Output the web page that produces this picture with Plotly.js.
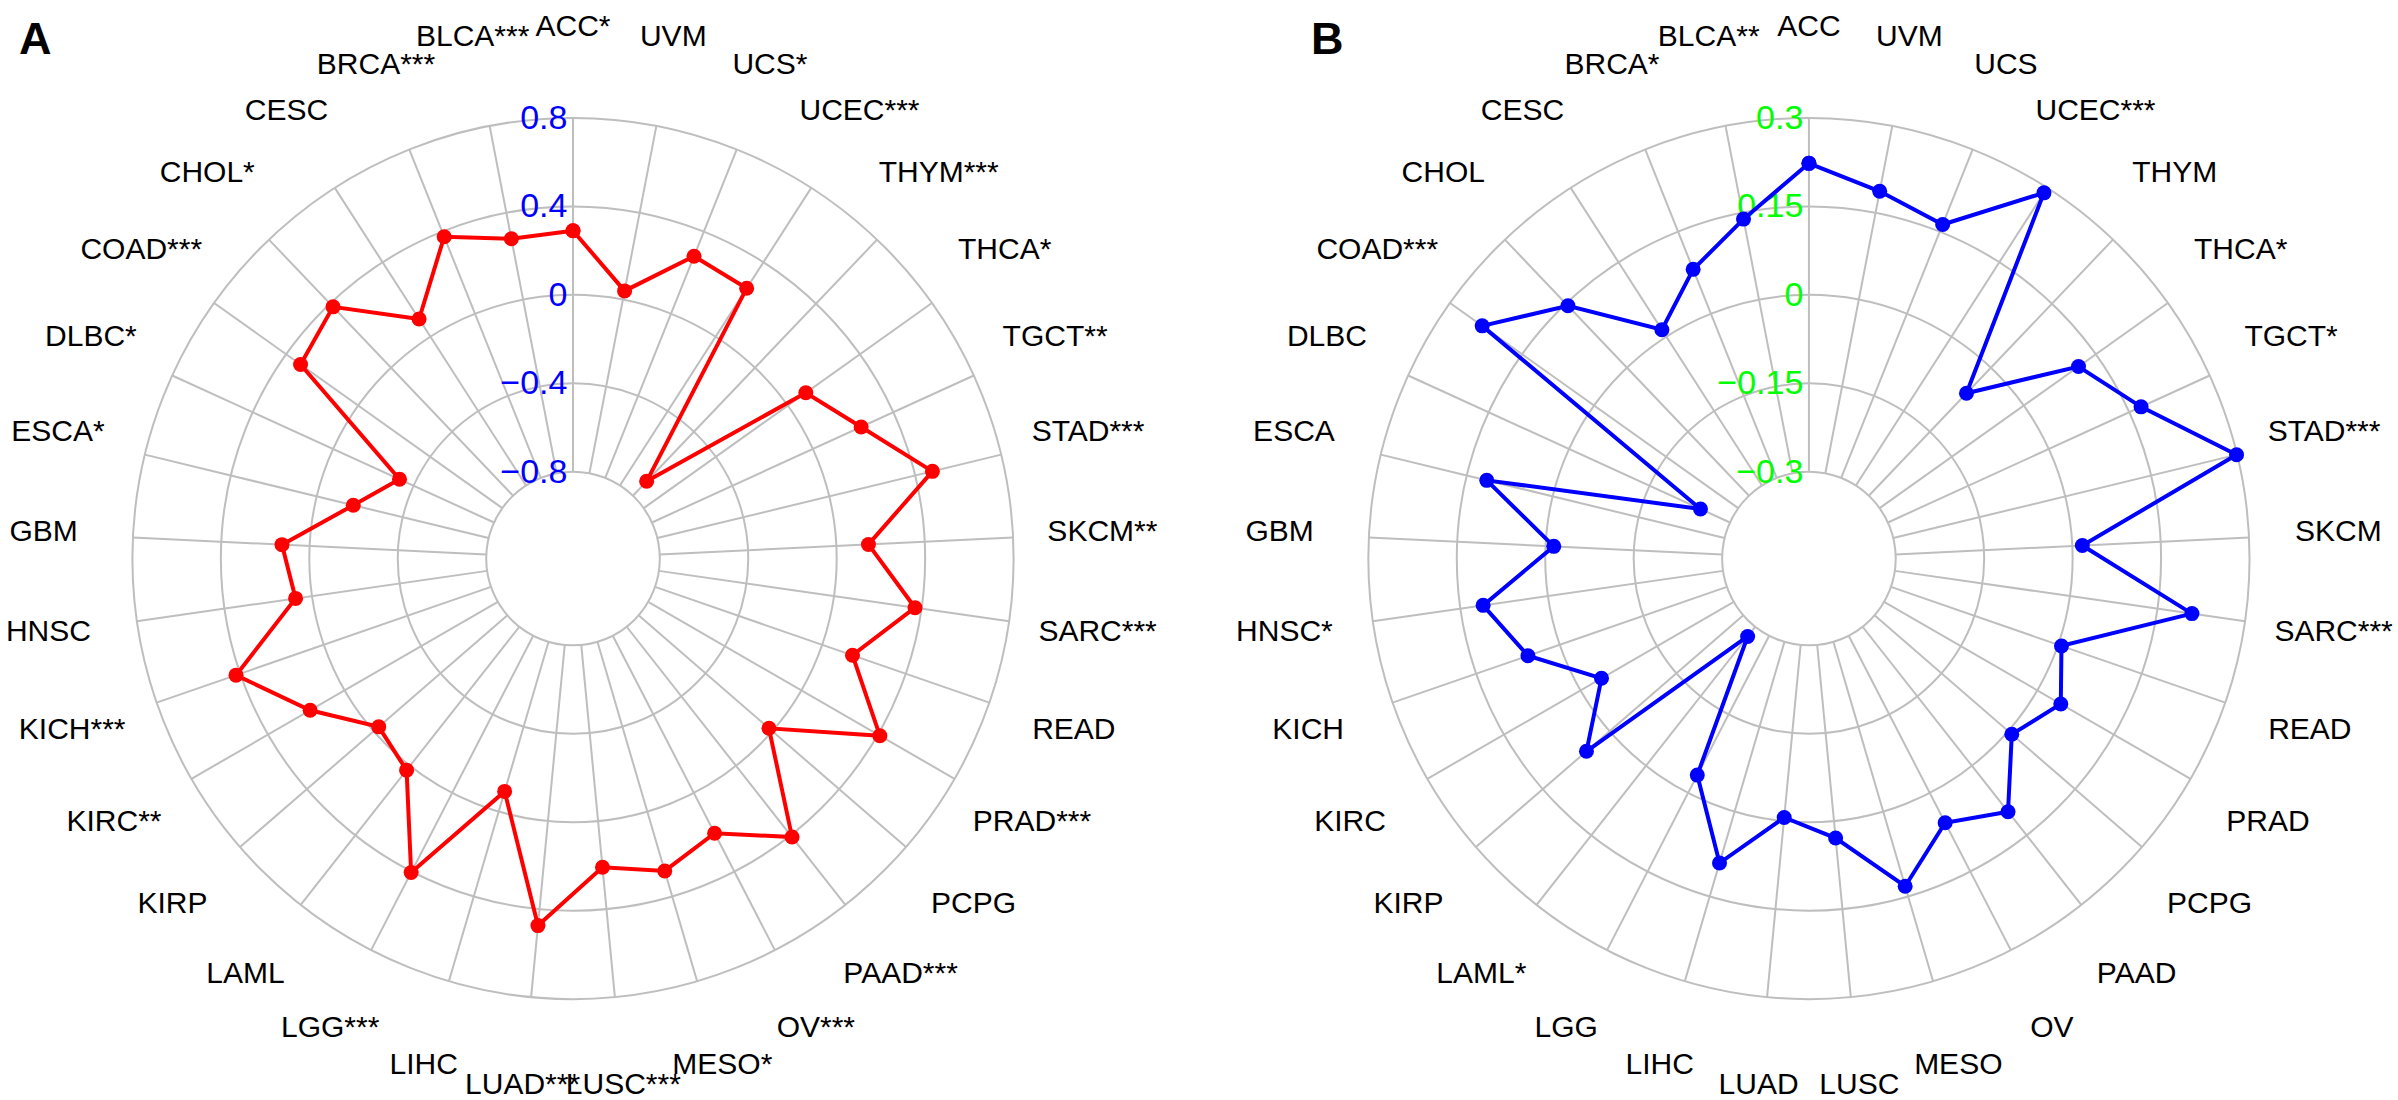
<!DOCTYPE html>
<html><head><meta charset="utf-8">
<script src="https://cdn.plot.ly/plotly-3.0.1.min.js"></script>
<style>html,body{margin:0;padding:0;background:#fff}#chart{width:2398px;height:1100px}</style>
</head><body><div id="chart"></div>
<script>
const categories = ['ACC','UVM','UCS','UCEC','THYM','THCA','TGCT','STAD','SKCM','SARC','READ','PRAD','PCPG','PAAD','OV','MESO','LUSC','LUAD','LIHC','LGG','LAML','KIRP','KIRC','KICH','HNSC','GBM','ESCA','DLBC','COAD','CHOL','CESC','BRCA','BLCA'];
const sigA = ['*','','*','***','***','*','**','***','**','***','','***','','***','***','*','***','***','','***','','','**','***','','','*','*','***','*','','***','***'];
const sigB = ['','','','***','','*','*','***','','***','','','','','','','','','','','*','','','','*','','','','***','','','*','**'];
const valuesA = [0.29,0.04,0.28,0.26,-0.71,0.10,0.24,0.48,0.145,0.37,0.145,0.41,-0.02,0.41,0.205,0.28,0.21,0.475,-0.095,0.405,0.025,-0.03,0.18,0.42,0.075,0.125,-0.17,-0.33,0.32,0.38,0.095,0.375,0.28];
const valuesB = [0.223,0.187,0.163,0.29,-0.06,0.114,0.172,0.299,0.017,0.209,0.006,0.046,0.008,0.099,0.057,0.132,0.029,-0.006,0.091,-0.034,-0.279,0.052,-0.041,0.057,0.111,-0.014,0.115,-0.245,0.233,0.145,0.014,0.081,0.139];
const ticksA = [-0.8,-0.4,0,0.4,0.8];
const ticksB = [-0.3,-0.15,0,0.15,0.3];

const FONT = 'Liberation Sans, Arial, sans-serif';
const GRID = '#bebebe';

function closed(arr){ return arr.concat([arr[0]]); }

function polarLayout(domX, ticks, tickColor){
  return {
    domain: {x: domX, y: [0.0917, 0.8928]},
    hole: 0.197,
    bgcolor: '#ffffff',
    radialaxis: {
      range: [ticks[0], ticks[ticks.length-1]],
      tickmode: 'array', tickvals: ticks,
      showline: false, ticks: '', angle: 90, side: 'counterclockwise', tickangle: 90,
      gridcolor: GRID, gridwidth: 2, layer: 'below traces',
      tickfont: {family: FONT, size: 34, color: tickColor}
    },
    angularaxis: {
      type: 'category', direction: 'clockwise', rotation: 90,
      categoryorder: 'array', categoryarray: categories,
      showticklabels: false, ticks: '',
      showline: true, linecolor: GRID, linewidth: 2,
      gridcolor: GRID, gridwidth: 2, layer: 'below traces'
    }
  };
}

// an invisible, concentric polar frame used only to place the category labels on a ring around the chart
function labelPolar(domX){
  return {
    domain: {x: domX, y: [0.0105, 0.9741]},
    bgcolor: 'rgba(0,0,0,0)',
    radialaxis: {visible: false, range: [0, 1]},
    angularaxis: {visible: false, type: 'category', direction: 'clockwise', rotation: 90,
      categoryorder: 'array', categoryarray: categories}
  };
}

function labelTrace(subplot, sig){
  return {type:'scatterpolar', subplot: subplot, mode:'text', r: categories.map(()=>1), theta: categories,
    text: categories.map((c,i)=>c+sig[i]), textposition:'middle center', cliponaxis:false,
    textfont:{family: FONT, size: 30, color:'#000000'}, hoverinfo:'skip'};
}

const traces = [
  {type:'scatterpolar', subplot:'polar', mode:'lines+markers', r: closed(valuesA), theta: closed(categories),
   line:{color:'#ff0000', width:4}, marker:{color:'#ff0000', size:15}, cliponaxis:false},
  {type:'scatterpolar', subplot:'polar2', mode:'lines+markers', r: closed(valuesB), theta: closed(categories),
   line:{color:'#0000ff', width:4}, marker:{color:'#0000ff', size:15}, cliponaxis:false},
  labelTrace('polar3', sigA),
  labelTrace('polar4', sigB)
];

const layout = {
  width: 2398, height: 1100,
  margin: {l:0, r:0, t:0, b:0},
  paper_bgcolor: '#ffffff',
  showlegend: false,
  polar: polarLayout([0.0552, 0.4227], ticksA, '#0000ff'),
  polar2: polarLayout([0.5706, 0.9381], ticksB, '#00ff00'),
  polar3: labelPolar([0.01793, 0.45997]),
  polar4: labelPolar([0.53336, 0.97540]),
  annotations: [
    {text:'<b>A</b>', xref:'paper', yref:'paper', x:0.0148, y:0.965, xanchor:'center', yanchor:'middle', showarrow:false, font:{family:FONT, size:45, color:'#000'}},
    {text:'<b>B</b>', xref:'paper', yref:'paper', x:0.5536, y:0.965, xanchor:'center', yanchor:'middle', showarrow:false, font:{family:FONT, size:45, color:'#000'}}
  ]
};

Plotly.newPlot('chart', traces, layout, {staticPlot:true, displayModeBar:false});
</script>
</body></html>
